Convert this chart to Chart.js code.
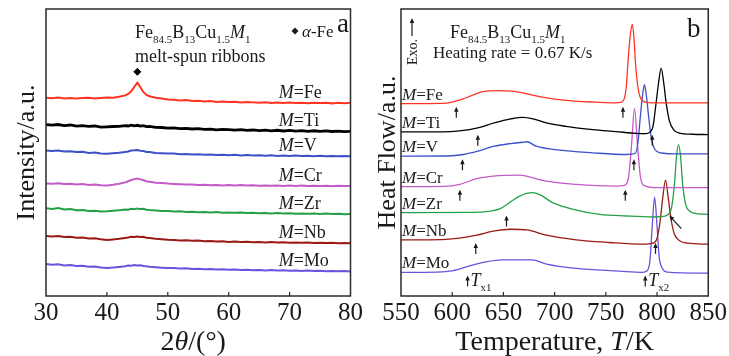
<!DOCTYPE html>
<html><head><meta charset="utf-8">
<script src="https://cdn.jsdelivr.net/npm/chart.js@4"></script>
<style>html,body{margin:0;padding:0;background:#fff;width:729px;height:356px;overflow:hidden}
canvas{position:absolute;top:0}#a{left:0}#b{left:365px}</style>
</head><body>
<canvas id="a" width="365" height="356"></canvas>
<canvas id="b" width="364" height="356"></canvas>
<script>
// ---------- data ----------
const alloyNames = ['Fe','Ti','V','Cr','Zr','Nb','Mo'];
const xrdTicks = [30,40,50,60,70,80];
const dscTicks = [550,600,650,700,750,800,850];

const twoTheta = [30,31,32,33,34,35,36,37,38,39,40,41,42,43,43.5,44,44.5,45,45.5,46,46.5,47,48,49,50,51,52,53,54,55,56,57,58,59,60,61,62,63,64,65,66,67,68,69,70,71,72,73,74,75,76,77,78,79,80];
const xrdFe = [199,198.4,199.2,198.3,198.8,198.1,198.6,198.9,198.2,198.7,199.3,199,200,201.3,202.8,205.5,210,214,209.5,204.5,201.8,200.5,199,198.2,197.3,196.9,196.2,196.6,195.8,195.9,195.2,195.6,194.8,195.1,194.6,194.9,194.2,194.6,194.3,194,194.5,193.8,194.2,193.6,194.1,193.7,193.9,193.4,194,193.6,193.8,193.3,193.9,193.5,193.8];
const xrdTi = [172,171.4,172.1,171,171.6,170.5,171,170.2,170.6,169.5,169.8,170.1,170.3,170.9,170.6,171.4,170.8,171.3,170.5,170.9,169.9,170.2,169.3,169.1,168.4,168.8,168,168.3,167.6,167.9,167.2,167.5,166.8,167.3,166.9,166.4,166.9,166.2,166.6,166,166.5,165.8,166.3,165.6,166.1,165.5,165.9,165.3,165.8,165.2,165.6,165.1,165.5,165,165.3];
const xrdV = [146,145.5,146.1,145,145.3,144.4,144.8,143.6,143.9,143.1,142.7,143.2,143.8,144.6,145,145.9,146.2,146.6,145.8,145.4,144.5,144.4,143.6,143.3,142.9,143.1,142.3,142.6,141.9,142.2,141.7,142,141.4,141.8,141.3,141.7,141.1,141.5,140.9,141.3,140.8,141.2,140.6,141,140.5,140.9,140.4,140.8,140.3,140.7,140.2,140.6,140.3,140.5,140.2];
const xrdCr = [113,112.6,113.2,112.3,112.7,111.9,112.3,111.5,111.8,111.1,111,111.6,112.6,114,115.2,116.4,117.3,117.8,117,116.1,115.2,114.6,113.7,113.4,112.8,112.4,112.1,111.8,112,111.5,111.7,111.2,111.5,111,111.4,110.9,111.3,110.8,111.2,110.7,111,110.6,110.9,110.5,110.8,110.4,110.8,110.3,110.7,110.4,110.6,110.2,110.6,110.3,110.4];
const xrdZr = [88,87.3,88.2,86.9,87.2,86.1,86.4,85.3,85.6,84.7,85,85.5,86.1,86.8,86.6,87.5,87.1,87.9,87.2,87.6,86.6,86.3,85.9,85.4,85.3,84.8,85,84.3,84.6,84,84.4,83.8,84.2,83.6,83.9,83.5,83.8,83.2,83.6,83,83.4,82.9,83.3,82.7,83.1,82.6,82.9,82.5,82.8,82.3,82.7,82.2,82.5,82.1,82.2];
const xrdNb = [60.3,59.8,60.2,59.1,59.4,58.5,58.8,57.7,57.9,56.9,56.3,56.8,57.4,58.3,58.8,59.5,59.3,59.8,59.2,59.4,58.5,58.2,57.5,57,56.4,56.3,55.8,56,55.4,55.6,55,55.3,54.7,54.9,54.3,54.6,54.2,54.5,54,54.3,53.8,54.1,53.6,53.9,53.5,53.8,53.4,53.6,53.2,53.5,53.1,53.4,53,53.3,53];
const xrdMo = [32,31.4,31.8,30.7,31,30.1,30.4,29.3,29.5,28.6,28,28.5,29.2,29.9,30.6,30.4,31.2,30.7,30.9,30.1,29.8,29.4,28.9,28.4,28,28.2,27.6,27.8,27.2,27.4,26.8,27.1,26.5,26.8,26.3,26.6,26.1,26.4,25.9,26.2,25.7,26,25.5,25.8,25.4,25.6,25.2,25.5,25,25.3,24.9,25.2,24.8,25,24.7];

// DSC: [T (K), heat flow (a.u.)]
const dscFe = [[550,193],[590,193.2],[600,194.5],[610,197.5],[620,201.5],[630,205],[645,206],[658,205.5],[670,203.5],[685,200],[700,197.5],[720,195.5],[740,194.5],[760,193.8],[765,194.5],[768,198],[770,210],[771.5,233],[773.5,258],[775.8,272.7],[777.5,258],[779,233],[781,212],[783,201],[786,196],[790,194.3],[800,193.7],[850,193.7]];
const dscTi = [[550,164.7],[591,164.7],[607,165.7],[625,168.7],[641,173.7],[657,177.7],[669,179.3],[679,177.7],[692,173.7],[711,170.3],[737,167],[760,165],[780,163.2],[789,163],[793,164.5],[796,170],[799,193],[801.5,214],[804,228.7],[806.5,214],[809,193],[812,176],[816,167],[822,163.5],[835,162.3],[850,162]];
const dscV = [[550,140.3],[595,140.5],[611,142],[625,145.3],[641,150.3],[657,153],[669,154.3],[673,154.8],[682,150.3],[705,146.3],[737,143.7],[770,142],[779,143.5],[781.5,155],[783.5,178],[785.7,200],[787.7,212],[789.7,200],[792,178],[794.5,158],[798,147],[804,143.5],[815,142.7],[850,142.7]];
const dscCr = [[550,109.7],[591,110],[607.5,112],[623.8,117.7],[640,120.3],[666,121.3],[672.5,120.3],[692,115.3],[721,112],[760,110.3],[768,111],[772,118],[775,150],[778,188],[781,150],[784,118],[788,110.5],[800,108.7],[850,108.7]];
const dscZr = [[550,83.7],[620,84],[635,85],[647,87.7],[656,93.7],[666,100.3],[678,103.7],[685,102],[698,93.7],[718,87],[744,82],[770,80.3],[796,79.3],[806,79.8],[811,82],[814,88],[817,112],[819,140],[820.9,152],[823,140],[825,112],[828,92],[832,85],[840,82.5],[850,82]];
const dscNb = [[550,56.3],[590,56.5],[607,58],[624,61],[640,65],[657,67],[673,66.3],[692,61],[721,56.3],[753,53.7],[786,52],[796,53],[800,58],[803,75],[805.5,98],[808.3,116.3],[811,98],[814,75],[817,62],[822,55.5],[830,53],[850,52]];
const dscMo = [[550,23.7],[585,24],[601,25.5],[617,30.3],[633,34.3],[649,36.3],[678,36.3],[692,32],[721,27.7],[763,25],[786,23.7],[790,25],[793,35],[795.3,70],[797.6,99.3],[800,70],[802,40],[805,28],[810,24],[850,23]];
// onset temperatures Tx1, Tx2 (K)
const tx1 = [604,625,610,607.5,653,623,615];
const tx2 = [766.7,795.3,777.4,769,812,798.5,788.5];

// ---------- styles ----------
const colors = ['#ff3322','#000000','#3c50c8','#c25ac8','#24a048','#9a1a16','#6655dd'];
const SERIF = '"Liberation Serif","Times New Roman",serif';
const INK = '#1a1a1a';

function rich(ctx, x, y, segs, size, align) {
  const fontFor = s => (s.includes('i') ? 'italic ' : '') + Math.round((s.includes('s') ? 0.62 : 1) * size) + 'px ' + SERIF;
  let total = 0;
  segs.forEach(([t, s]) => { ctx.font = fontFor(s); total += ctx.measureText(t).width; });
  let cx = align === 'center' ? x - total / 2 : x;
  ctx.textAlign = 'left';
  segs.forEach(([t, s]) => { ctx.font = fontFor(s); ctx.fillText(t, cx, y + (s.includes('s') ? size * 0.28 : 0)); cx += ctx.measureText(t).width; });
}
function arrow(ctx, x1, y1, x2, y2, head) {
  const ang = Math.atan2(y2 - y1, x2 - x1);
  ctx.beginPath(); ctx.moveTo(x1, y1); ctx.lineTo(x2 - Math.cos(ang) * 2, y2 - Math.sin(ang) * 2); ctx.stroke();
  ctx.beginPath(); ctx.moveTo(x2, y2);
  ctx.lineTo(x2 - head * Math.cos(ang) + head * 0.45 * Math.sin(ang), y2 - head * Math.sin(ang) - head * 0.45 * Math.cos(ang));
  ctx.lineTo(x2 - head * Math.cos(ang) - head * 0.45 * Math.sin(ang), y2 - head * Math.sin(ang) + head * 0.45 * Math.cos(ang));
  ctx.closePath(); ctx.fill();
}
function frameAndTicks(chart) {
  const {ctx, chartArea: a} = chart; const xs = chart.scales.x;
  ctx.save(); ctx.strokeStyle = '#2a2a2a'; ctx.lineWidth = 1.5;
  ctx.strokeRect(a.left, a.top, a.right - a.left, a.bottom - a.top);
  ctx.lineWidth = 1.2;
  xs.ticks.forEach(t => { const px = xs.getPixelForValue(t.value);
    if (px > a.left + 1 && px < a.right - 1) { ctx.beginPath(); ctx.moveTo(px, a.bottom); ctx.lineTo(px, a.bottom - 4); ctx.stroke(); } });
  ctx.restore();
}
function yTitle(ctx, x, y, text, size) {
  ctx.save(); ctx.translate(x, y); ctx.rotate(-Math.PI / 2);
  ctx.font = size + 'px ' + SERIF; ctx.textAlign = 'center'; ctx.textBaseline = 'alphabetic'; ctx.fillText(text, 0, 0); ctx.restore();
}
const compSegs = [['Fe',''],['84.5','s'],['B',''],['13','s'],['Cu',''],['1.5','s'],['M','i'],['1','s']];

const xrdSeries = [xrdFe, xrdTi, xrdV, xrdCr, xrdZr, xrdNb, xrdMo];
const dscSeries = [dscFe, dscTi, dscV, dscCr, dscZr, dscNb, dscMo];

const xrdDecor = { id: 'xrdDecor', afterDraw(chart) {
  const {ctx, chartArea: a, scales: {x, y}} = chart;
  frameAndTicks(chart);
  ctx.save(); ctx.fillStyle = INK; ctx.strokeStyle = INK; ctx.textBaseline = 'alphabetic';
  rich(ctx, (a.left + a.right) / 2 - 5, 350, [['2',''],['θ','i'],['/(°)','']], 28, 'center');
  yTitle(ctx, 34, (a.top + a.bottom) / 2, 'Intensity/a.u.', 26);
  xrdSeries.forEach((s, i) => {
    rich(ctx, x.getPixelForValue(68.2), y.getPixelForValue(s[s.length - 1]) - 11 + 6, [['M','i'],['=' + alloyNames[i], '']], 17.5, 'left');
  });
  rich(ctx, a.left + 89, 38, compSegs, 18, 'left');
  ctx.font = '18px ' + SERIF; ctx.fillText('melt-spun ribbons', a.left + 89, 62);
  const dx = a.left + 249, dy = 31;
  ctx.beginPath(); ctx.moveTo(dx, dy - 3.5); ctx.lineTo(dx + 3.5, dy); ctx.lineTo(dx, dy + 3.5); ctx.lineTo(dx - 3.5, dy); ctx.closePath(); ctx.fill();
  rich(ctx, dx + 7, 37, [['α','i'],['-Fe','']], 17, 'left');
  ctx.font = '27px ' + SERIF; ctx.fillText('a', a.left + 291, 32);
  ctx.restore();
}};

const dscDecor = { id: 'dscDecor', afterDraw(chart) {
  const {ctx, chartArea: a, scales: {x, y}} = chart;
  frameAndTicks(chart);
  ctx.save(); ctx.fillStyle = INK; ctx.strokeStyle = INK; ctx.lineWidth = 1.2; ctx.textBaseline = 'alphabetic';
  rich(ctx, (a.left + a.right) / 2, 350, [['Temperature, ',''],['T','i'],['/K','']], 28, 'center');
  yTitle(ctx, 30, (a.top + a.bottom) / 2, 'Heat Flow/a.u.', 26);
  dscSeries.forEach((s, i) => {
    const base = y.getPixelForValue(s[0][1]);
    rich(ctx, a.left + 1, base - 10 + 6, [['M','i'],['=' + alloyNames[i], '']], 17, 'left');
    const tip = base + 3;
    arrow(ctx, x.getPixelForValue(tx1[i]), tip + 11, x.getPixelForValue(tx1[i]), tip, 5);
    if (alloyNames[i] === 'Zr') {
      const hx = x.getPixelForValue(tx2[i]);
      arrow(ctx, hx + 12, tip + 13, hx, tip, 5);
    } else {
      arrow(ctx, x.getPixelForValue(tx2[i]), tip + 11, x.getPixelForValue(tx2[i]), tip, 5);
    }
    if (i === dscSeries.length - 1) {
      rich(ctx, x.getPixelForValue(tx1[i]) + 3, tip + 11, [['T','i'],['x1','s']], 18, 'left');
      rich(ctx, x.getPixelForValue(tx2[i]) + 3, tip + 11, [['T','i'],['x2','s']], 18, 'left');
    }
  });
  rich(ctx, a.left + 49, 38, compSegs, 18, 'left');
  ctx.font = '17px ' + SERIF; ctx.fillText('Heating rate = 0.67 K/s', a.left + 32, 58);
  ctx.font = '27px ' + SERIF; ctx.fillText('b', a.left + 286, 37);
  arrow(ctx, a.left + 11, 36, a.left + 11, 18, 5);
  yTitle(ctx, a.left + 16, 52, 'Exo.', 14);
  ctx.restore();
}};

const common = (min, max, ticks, pad) => ({
  responsive: false, animation: false, events: [],
  layout: { padding: pad },
  plugins: { legend: { display: false }, tooltip: { enabled: false } },
  scales: {
    x: { type: 'linear', min, max, afterBuildTicks: sc => { sc.ticks = ticks.map(v => ({ value: v })); },
         ticks: { font: { family: SERIF, size: 25 }, color: INK, padding: 2, maxRotation: 0, autoSkip: false },
         grid: { display: false, drawTicks: false }, border: { display: false } },
    y: { type: 'linear', min: 0, max: 288, display: false }
  }
});

const peakIdx = xrdFe.indexOf(Math.max(...xrdFe));
new Chart(document.getElementById('a'), {
  type: 'line',
  data: { datasets: [
    ...xrdSeries.map((s, i) => ({ label: 'M=' + alloyNames[i], data: twoTheta.map((t, j) => ({ x: t, y: s[j] })),
      borderColor: colors[i], borderWidth: i === 1 ? 2.8 : 2.0, pointRadius: 0, tension: 0 })),
    { type: 'scatter', label: 'α-Fe', data: [{ x: twoTheta[peakIdx], y: xrdFe[peakIdx] + 11 }],
      pointStyle: 'rectRot', pointRadius: 3.5, backgroundColor: '#000', borderColor: '#000' }
  ]},
  options: common(30, 80, xrdTicks, { left: 46, right: 13, top: 9, bottom: 26 }),
  plugins: [xrdDecor]
});

new Chart(document.getElementById('b'), {
  type: 'line',
  data: { datasets: dscSeries.map((s, i) => ({ label: 'M=' + alloyNames[i], data: s.map(p => ({ x: p[0], y: p[1] })),
      borderColor: colors[i], borderWidth: 1.3, pointRadius: 0, cubicInterpolationMode: 'monotone' })) },
  options: common(550, 850, dscTicks, { left: 36, right: 20, top: 9, bottom: 26 }),
  plugins: [dscDecor]
});
</script></body></html>
